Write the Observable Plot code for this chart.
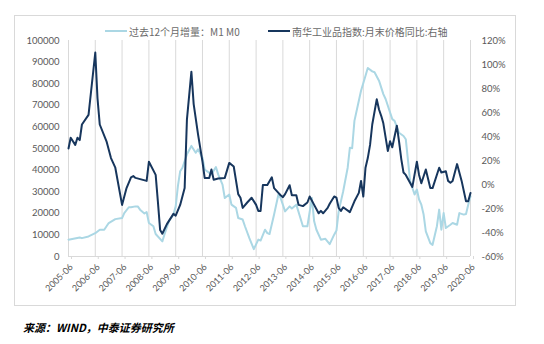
<!DOCTYPE html>
<html><head><meta charset="utf-8">
<script src="https://cdn.jsdelivr.net/npm/d3@7"></script>
<script src="https://cdn.jsdelivr.net/npm/@observablehq/plot@0.6"></script>
<style>
body{margin:0;background:#fff;}
#wrap{position:relative;width:544px;height:344px;overflow:hidden;}
#frame{position:absolute;left:14px;top:15px;width:500px;height:289px;border:1px solid #d9d9d9;}
.leg{position:absolute;top:24px;height:14px;display:flex;align-items:center;font-family:"Noto Sans CJK SC",sans-serif;font-size:10px;color:#6a6a6a;white-space:nowrap;}
.leg i{display:inline-block;width:22px;height:2px;margin-right:2px;}
#chart{position:absolute;left:0;top:0;}
#cap{position:absolute;left:23px;top:319px;font-family:"Noto Sans CJK SC",sans-serif;font-weight:bold;font-style:italic;font-size:11px;color:#000;}
</style></head>
<body>
<div id="wrap">
  <div id="frame"></div>
  <div id="chart"></div>
  <div class="leg" id="leg1" style="left:105px"></div>
  <div class="leg" id="leg2" style="left:268px"></div>
  <div id="cap"></div>
</div>
<script>
const lightName = "过去12个月增量：M1 M0";
const darkName = "南华工业品指数:月末价格同比:右轴";
const caption = "来源：WIND，中泰证券研究所";

const xTickLabels = ["2005-06","2006-06","2007-06","2008-06","2009-06","2010-06","2011-06","2012-06","2013-06","2014-06","2015-06","2016-06","2017-06","2018-06","2019-06","2020-06"];
const leftTicks = [0,10000,20000,30000,40000,50000,60000,70000,80000,90000,100000];
const rightTicks = [-60,-40,-20,0,20,40,60,80,100,120];

const lightDates = ["2005-06","2005-11","2005-12","2006-03","2006-06","2006-08","2006-10","2006-12","2007-03","2007-06","2007-07","2007-09","2007-10","2007-12","2008-01","2008-02","2008-04","2008-05","2008-06","2008-08","2008-09","2008-12","2009-01","2009-03","2009-05","2009-06","2009-07","2009-08","2009-09","2009-11","2010-01","2010-03","2010-04","2010-06","2010-07","2010-08","2010-10","2010-12","2011-01","2011-03","2011-04","2011-06","2011-07","2011-09","2011-10","2011-12","2012-01","2012-03","2012-05","2012-07","2012-08","2012-10","2012-11","2012-12","2013-02","2013-04","2013-05","2013-07","2013-09","2013-10","2013-12","2014-03","2014-05","2014-07","2014-08","2014-09","2014-11","2015-01","2015-03","2015-05","2015-06","2015-07","2015-09","2015-11","2015-12","2016-01","2016-02","2016-04","2016-05","2016-07","2016-08","2016-10","2016-11","2017-01","2017-03","2017-04","2017-07","2017-08","2017-10","2017-12","2018-01","2018-02","2018-03","2018-05","2018-06","2018-07","2018-08","2018-09","2018-10","2018-12","2019-01","2019-03","2019-04","2019-05","2019-06","2019-07","2019-09","2019-10","2019-12","2020-01","2020-03","2020-04","2020-05","2020-06"];
const lightValues = [7800,8800,8500,9300,10800,12400,12400,15500,17300,17800,20100,22800,22800,23200,23200,21700,19900,20600,15500,14000,10400,7000,10400,16300,19400,23200,32600,39500,41100,47300,51200,48000,49600,45700,40300,39500,38000,41400,38000,33300,27100,28700,24000,22500,17800,17100,14000,8500,3400,7800,7400,12400,10800,10400,19400,28700,27100,20900,23200,22200,24000,14000,14000,27100,16300,12400,7800,8200,5700,10100,12000,20900,30200,41100,50400,50100,62800,72100,76700,83700,87300,85700,85300,81400,75200,72900,63600,62800,57300,55800,54300,44200,34900,28700,31000,26400,24000,19400,11600,6200,5400,14000,21700,12400,20100,13200,14700,15500,14700,20100,19400,19700,24000,27900];

const darkDates = ["2005-06","2005-07","2005-09","2005-10","2005-11","2005-12","2006-03","2006-06","2006-07","2006-08","2006-11","2007-01","2007-03","2007-06","2007-08","2007-10","2007-11","2007-12","2008-05","2008-06","2008-09","2008-10","2008-11","2008-12","2009-02","2009-05","2009-06","2009-08","2009-10","2009-11","2010-01","2010-02","2010-04","2010-06","2010-07","2010-09","2010-10","2010-11","2011-01","2011-04","2011-06","2011-08","2011-10","2011-11","2011-12","2012-02","2012-04","2012-06","2012-07","2012-08","2012-09","2012-11","2013-01","2013-02","2013-04","2013-05","2013-06","2013-07","2013-09","2013-10","2013-12","2014-01","2014-03","2014-05","2014-06","2014-08","2014-10","2014-11","2014-12","2015-02","2015-03","2015-05","2015-06","2015-07","2015-08","2015-09","2015-12","2016-02","2016-04","2016-05","2016-06","2016-07","2016-08","2016-09","2016-10","2016-12","2017-01","2017-02","2017-03","2017-05","2017-06","2017-07","2017-09","2017-10","2017-11","2017-12","2018-01","2018-04","2018-06","2018-07","2018-08","2018-10","2018-12","2019-01","2019-04","2019-05","2019-07","2019-08","2019-09","2019-10","2019-12","2020-02","2020-04","2020-05","2020-06"];
const darkValues = [30,39,33,39,37,50,58,110,72,50,36,22,14,-17,-3,6,7,5.5,3,19,8,-14,-38,-41,-33,-24.5,-26,-17,-3,54,94,67,42,19,5.5,5.5,12.5,4,5,5.5,18,15,-8,-11,-19.5,-15,-11,-17,-22,-22,-0.5,-0.5,6,-3,-7,-9,-10.5,-8,-0.6,-9,-9,-17,-18,-15,-10,-17,-24,-22,-24,-19.5,-16,-10,-11,-19.5,-22,-19,-23,-14,-7,3,-10,14,22,33,50,71,62.5,57,51,28,36,31,49,36,21,10,8,-2,19,8,1,12.5,-3,-3,14,10,11,3,1.5,3,17,3,-14,-14,-7];

const lightColor = "#abd7e4";
const darkColor = "#17365d";

const parse = d3.utcParse("%Y-%m");
const leftMin = 0, leftMax = 100000, rightMin = -60, rightMax = 120;
const toLeft = p => (p - rightMin) / (rightMax - rightMin) * (leftMax - leftMin) + leftMin;
const toRight = v => (v - leftMin) / (leftMax - leftMin) * (rightMax - rightMin) + rightMin;

const light = lightDates.map((d, i) => ({date: parse(d), value: lightValues[i]}));
const dark = darkDates.map((d, i) => ({date: parse(d), pct: darkValues[i]}));
const xTicks = xTickLabels.map(parse);

const chart = Plot.plot({
  width: 544, height: 300,
  marginLeft: 68, marginRight: 74, marginTop: 40, marginBottom: 44,
  style: {fontFamily: "Lato, 'Noto Sans', sans-serif", fontSize: "9.5px", color: "#595959", background: "transparent"},
  x: {type: "utc", domain: [xTicks[0], xTicks[xTicks.length - 1]]},
  y: {domain: [leftMin, leftMax]},
  marks: [
    Plot.ruleX(xTicks, {stroke: "#d9d9d9", strokeWidth: 1, y1: leftMin, y2: leftMax}),
    Plot.ruleY([leftMin], {stroke: "#d9d9d9", strokeWidth: 1}),
    Plot.axisX(xTicks, {tickSize: 3, stroke: "#d9d9d9", tickRotate: -45, tickPadding: 6, dx: 3, tickFormat: d3.utcFormat("%Y-%m"), fontSize: 9, label: null}),
    Plot.axisY(leftTicks, {anchor: "left", tickSize: 0, tickPadding: 9, tickFormat: d3.format("d"), label: null}),
    Plot.axisY(rightTicks.map(toLeft), {anchor: "right", tickSize: 0, tickPadding: 11, tickFormat: v => Math.round(toRight(v)) + "%", label: null}),
    Plot.line(light, {x: "date", y: "value", stroke: lightColor, strokeWidth: 2}),
    Plot.line(dark, {x: "date", y: d => toLeft(d.pct), stroke: darkColor, strokeWidth: 2})
  ]
});
document.getElementById("chart").appendChild(chart);

document.getElementById("leg1").innerHTML = `<i style="background:${lightColor}"></i>${lightName}`;
document.getElementById("leg2").innerHTML = `<i style="background:${darkColor}"></i>${darkName}`;
document.getElementById("cap").textContent = caption;
</script>
</body></html>
